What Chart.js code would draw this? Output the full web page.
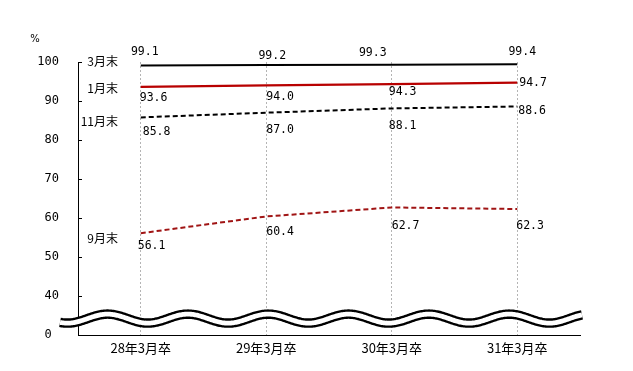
<!DOCTYPE html>
<html>
<head>
<meta charset="utf-8">
<script src="https://cdn.jsdelivr.net/npm/chart.js@4.4.0/dist/chart.umd.min.js"></script>
<style>
html,body{margin:0;padding:0;background:#fff;}
#wrap{width:633px;height:371px;position:relative;}
</style>
</head>
<body>
<div id="wrap"><canvas id="c" width="633" height="371"></canvas></div>
<script>
// ---- data ----
const categories = ['28年3月卒', '29年3月卒', '30年3月卒', '31年3月卒'];
const seriesNames = ['3月末', '1月末', '11月末', '9月末'];
const march = [99.1, 99.2, 99.3, 99.4];
const january = [93.6, 94.0, 94.3, 94.7];
const november = [85.8, 87.0, 88.1, 88.6];
const september = [56.1, 60.4, 62.7, 62.3];
const yTickValues = [30, 40, 50, 60, 70, 80, 90, 100];
const yTickLabels = ['0 ', '40', '50', '60', '70', '80', '90', '100'];
const unitLabel = '%';

// ---- label placement (style only) ----
// per series, per point: [dx, dy, align]
const labelPlacement = [
  [[4,-13,'center'],[6,-9,'center'],[-19,-12,'center'],[5,-12,'center']],
  [[-1,11,'left'],[0,12,'left'],[-3,8,'left'],[2,0,'left']],
  [[2,15,'left'],[0,17,'left'],[-3,18,'left'],[1,5,'left']],
  [[-3,13,'left'],[0,16,'left'],[0,19,'left'],[-1,17,'left']]
];
const nameOffsetY = [-4, 1, 4, 5];

const numFont = '11.5px "DejaVu Sans Mono", monospace';
const jpFont = '12px "Noto Sans CJK JP", sans-serif';

const labelPlugin = {
  id: 'labels',
  afterDatasetsDraw(chart) {
    const ctx = chart.ctx;
    const yS = chart.scales.y;
    const area = chart.chartArea;
    ctx.save();
    ctx.fillStyle = '#000';
    ctx.textBaseline = 'middle';
    chart.data.datasets.forEach((ds, i) => {
      const meta = chart.getDatasetMeta(i);
      meta.data.forEach((pt, j) => {
        const p = labelPlacement[i][j];
        ctx.font = numFont;
        ctx.textAlign = p[2];
        ctx.fillText(ds.data[j].toFixed(1), pt.x + p[0], pt.y + p[1]);
      });
      ctx.font = jpFont;
      ctx.textAlign = 'right';
      ctx.fillText(ds.label, area.left + 40, meta.data[0].y + nameOffsetY[i]);
    });
    ctx.font = '10px "DejaVu Sans", sans-serif';
    ctx.textAlign = 'center';
    ctx.fillText(unitLabel, 35, yS.getPixelForValue(100) - 23);
    ctx.restore();
  }
};

const breakPlugin = {
  id: 'axisBreak',
  afterDraw(chart) {
    const ctx = chart.ctx;
    const yS = chart.scales.y;
    const xS = chart.scales.x;
    const area = chart.chartArea;
    ctx.save();
    ctx.strokeStyle = '#000';
    ctx.lineWidth = 1;
    yS.ticks.forEach((t, i) => {
      const y = Math.round(yS.getPixelForTick(i)) + 0.5;
      ctx.beginPath();
      ctx.moveTo(area.left, y);
      ctx.lineTo(area.left + 4, y);
      ctx.stroke();
    });
    const cy = yS.getPixelForValue(34.2);
    const period = (xS.getPixelForValue(1) - xS.getPixelForValue(0)) * 0.64;
    const x0 = xS.getPixelForValue(0) + 7;
    const amp = 4.5;
    const xStart = area.left - 18, xEnd = area.right + 2;
    function wave() {
      ctx.beginPath();
      for (let x = xStart; x <= xEnd; x += 1) {
        const y = cy + amp * Math.cos((x - x0) / period * 2 * Math.PI);
        if (x === xStart) ctx.moveTo(x, y); else ctx.lineTo(x, y);
      }
      ctx.stroke();
    }
    ctx.lineCap = 'butt';
    ctx.strokeStyle = '#000';
    ctx.lineWidth = 9.5;
    wave();
    ctx.strokeStyle = '#fff';
    ctx.lineWidth = 4.8;
    wave();
    ctx.restore();
  }
};

new Chart(document.getElementById('c'), {
  type: 'line',
  data: {
    labels: categories,
    datasets: [
      { label: seriesNames[0], data: march, borderColor: '#000', borderWidth: 2, pointRadius: 0, tension: 0 },
      { label: seriesNames[1], data: january, borderColor: '#b80000', borderWidth: 2.25, pointRadius: 0, tension: 0 },
      { label: seriesNames[2], data: november, borderColor: '#000', borderWidth: 2, borderDash: [5, 3], pointRadius: 0, tension: 0 },
      { label: seriesNames[3], data: september, borderColor: '#a01414', borderWidth: 2, borderDash: [5, 3], pointRadius: 0, tension: 0 }
    ]
  },
  options: {
    responsive: false,
    animation: false,
    events: [],
    layout: { padding: { top: 62, right: 53, left: 0, bottom: 0 } },
    plugins: { legend: { display: false }, tooltip: { enabled: false } },
    scales: {
      x: {
        type: 'category',
        offset: true,
        grid: { display: true, offset: false, drawTicks: false, color: '#b4b4b4', lineWidth: 1 },
        border: { display: true, color: '#000', width: 1, dash: [2, 2] },
        ticks: { padding: 5, color: '#000', font: { family: '"Noto Sans CJK JP", sans-serif', size: 13 }, maxRotation: 0 },
        afterFit(s) { s.height = 36; }
      },
      y: {
        min: 30, max: 100,
        afterBuildTicks(s) { s.ticks = yTickValues.map(v => ({ value: v })); },
        grid: { display: false, drawTicks: false },
        border: { display: true, color: '#000', width: 1 },
        ticks: {
          padding: 19, color: '#000',
          font: { family: '"DejaVu Sans Mono", monospace', size: 12 },
          callback(v) { const k = yTickValues.indexOf(v); return k >= 0 ? yTickLabels[k] : ''; }
        },
        afterFit(s) { s.width = 78; }
      }
    }
  },
  plugins: [labelPlugin, breakPlugin]
});
</script>
</body>
</html>
